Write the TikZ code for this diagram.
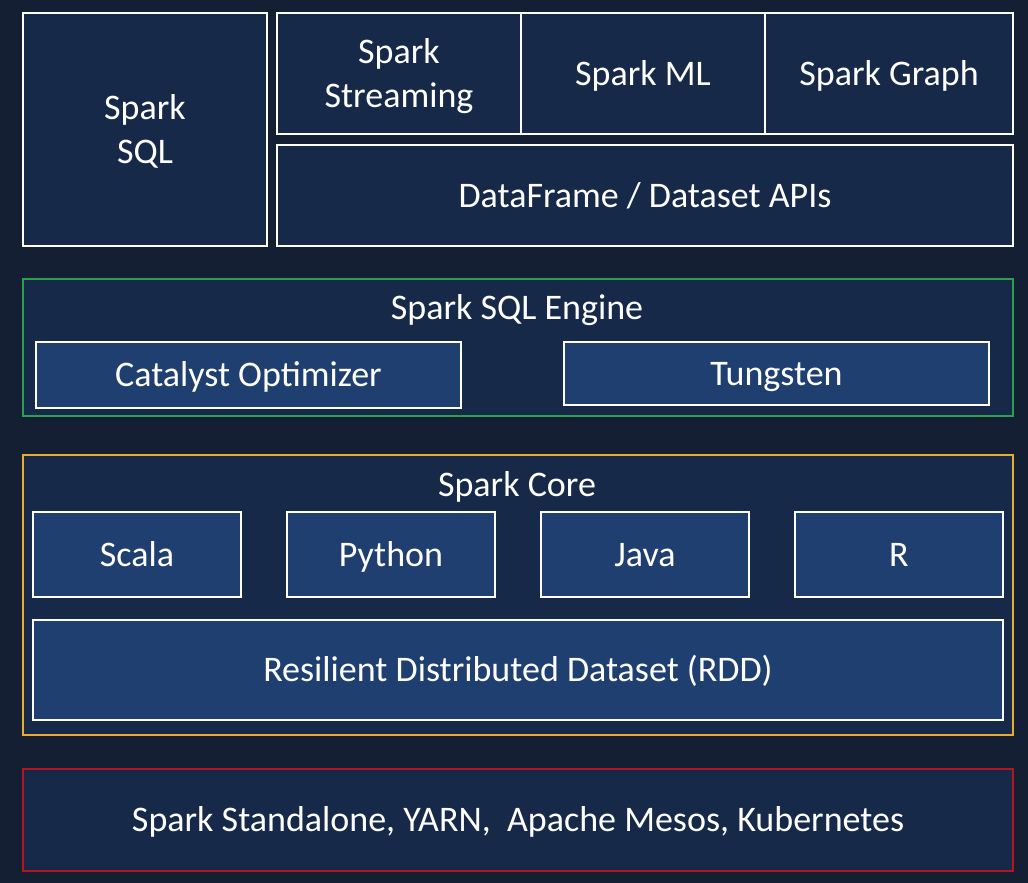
\documentclass[tikz,border=0pt]{standalone}
\usepackage{fontspec}
\setmainfont{Carlito}
\definecolor{bgcol}{RGB}{21,31,51}
\definecolor{boxfill}{RGB}{23,41,73}
\definecolor{innerfill}{RGB}{31,63,113}
\definecolor{greencol}{RGB}{40,160,80}
\definecolor{orangecol}{RGB}{232,172,50}
\definecolor{redcol}{RGB}{180,22,32}
\begin{document}
\begin{tikzpicture}[x=1pt,y=-1pt,
  lbl/.style={text=white,font=\fontsize{36}{44}\selectfont,align=center,text height=23pt,text depth=0pt},
  twoline/.style={text height=67pt,text depth=0pt},
  box/.style={lbl,draw=white,line width=1.8pt,fill=boxfill,inner sep=0pt,outer sep=0pt,anchor=north west},
  ibox/.style={box,fill=innerfill},
  group/.style={draw=#1,line width=1.8pt,fill=boxfill,inner sep=0pt,outer sep=0pt,anchor=north west}
]
\fill[bgcol] (0,0) rectangle (1028,883);
\useasboundingbox (0,0) rectangle (1028,883);
% top row
\node[box,twoline,minimum width=244pt,minimum height=233pt] (sql) at (23,13) {Spark\\SQL};
\node[box,twoline,minimum width=244pt,minimum height=121pt] (stream) at (277,13) {Spark\\Streaming};
\node[box,minimum width=244pt,minimum height=121pt] (ml) at (521,13) {Spark ML};
\node[box,minimum width=248pt,minimum height=121pt] (graph) at (765,13) {Spark Graph};
\node[box,minimum width=736pt,minimum height=101pt] (df) at (277,145) {DataFrame / Dataset APIs};
% engine
\node[group=greencol,minimum width=990pt,minimum height=137pt] (engine) at (23,279) {};
\node[lbl] (enginet) at (517,308) {Spark SQL Engine};
\node[ibox,minimum width=425pt,minimum height=66pt] (cat) at (36,342) {Catalyst Optimizer};
\node[ibox,minimum width=425pt,minimum height=63pt] (tung) at (564,342) {Tungsten};
% core
\node[group=orangecol,minimum width=990pt,minimum height=280pt] (core) at (23,455) {};
\node[lbl] (coret) at (517,485) {Spark Core};
\node[ibox,minimum width=208pt,minimum height=85pt] (scala) at (33,512) {Scala};
\node[ibox,minimum width=208pt,minimum height=85pt] (python) at (287,512) {Python};
\node[ibox,minimum width=208pt,minimum height=85pt] (java) at (541,512) {Java};
\node[ibox,minimum width=208pt,minimum height=85pt] (r) at (795,512) {R};
\node[ibox,minimum width=970pt,minimum height=100pt] (rdd) at (33,620) {Resilient Distributed Dataset (RDD)};
% cluster managers
\node[group=redcol,lbl,minimum width=990pt,minimum height=102pt] (cm) at (23,769) {Spark Standalone, YARN,\ \ Apache Mesos, Kubernetes};
\end{tikzpicture}
\end{document}
